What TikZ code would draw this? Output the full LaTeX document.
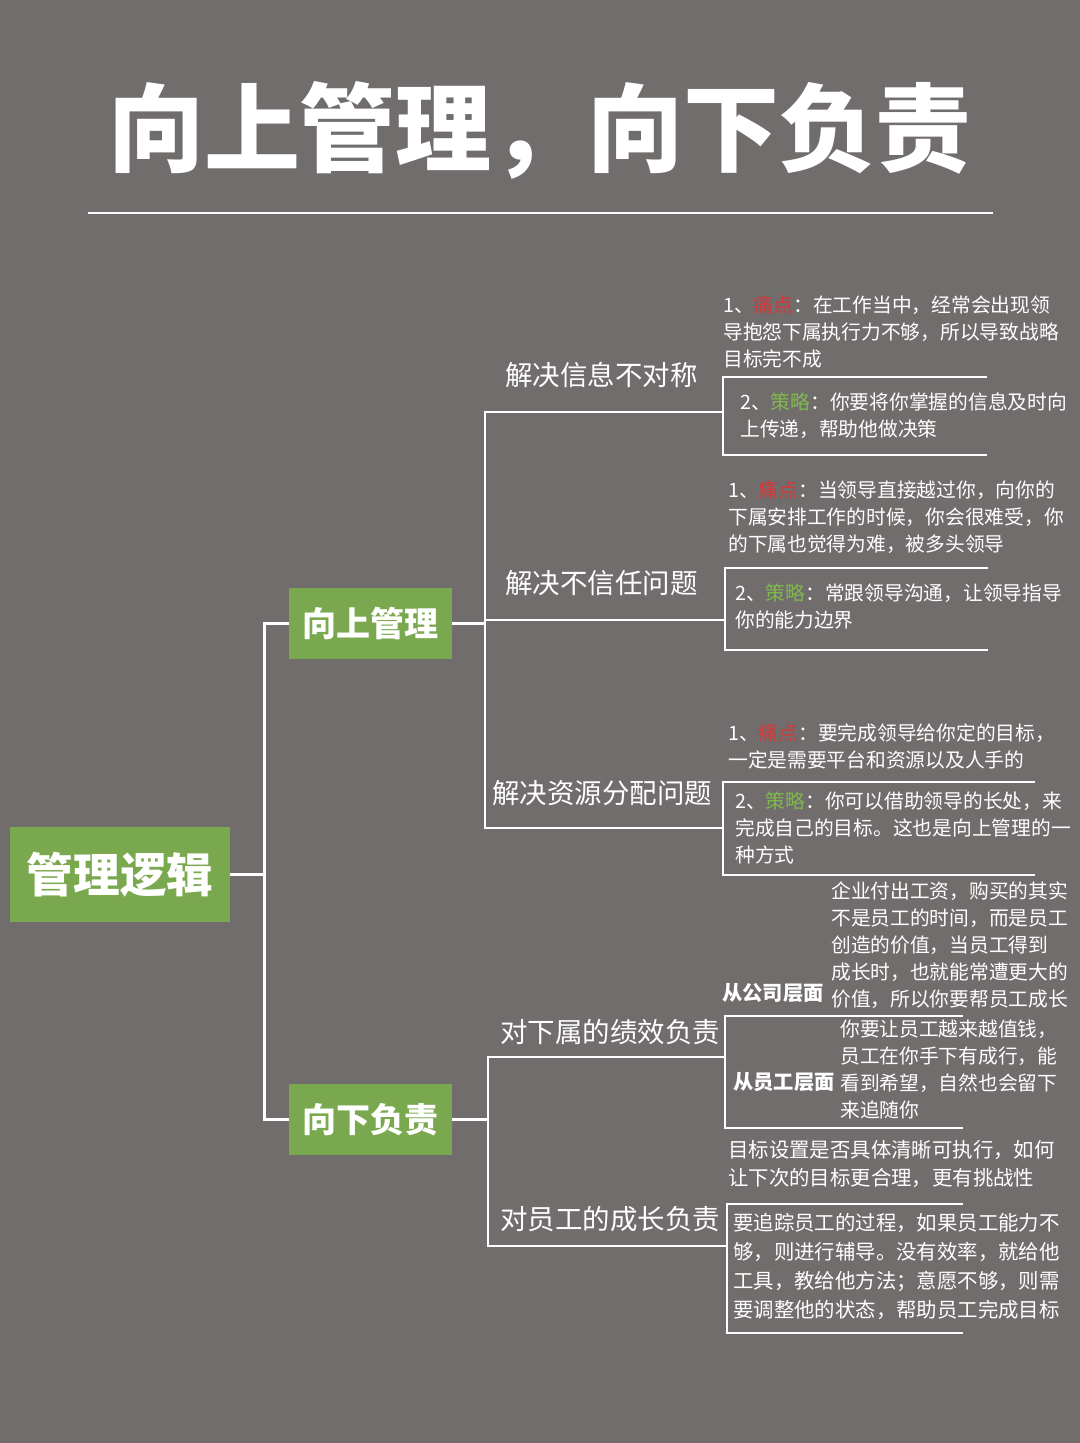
\documentclass[tikz,border=0pt]{standalone}
\usepackage{fontspec}
\setmainfont{Noto Sans CJK SC}
\usepackage{tikz}
\usetikzlibrary{calc, positioning}
\definecolor{bggray}{RGB}{113,109,108}
\definecolor{leafgreen}{RGB}{122,168,78}
\definecolor{painred}{RGB}{214,56,56}
\definecolor{plangreen}{RGB}{128,184,80}
\newcommand{\pain}{\textcolor{painred}{痛点}}
\newcommand{\plan}{\textcolor{plangreen}{策略}}

\begin{document}
\begin{tikzpicture}[
    x=0.75pt, y=-0.75pt,
    wire/.style={draw=white, line width=2.2pt},
    rootbox/.style={fill=leafgreen, text=white, font=\bfseries\fontsize{35}{40}\selectfont, minimum width=165pt, minimum height=71pt, inner sep=0pt},
    greenbox/.style={fill=leafgreen, text=white, font=\bfseries\fontsize{25.5}{30}\selectfont, minimum width=122pt, minimum height=53pt, inner sep=0pt},
    topic/.style={text=white, font=\fontsize{20.6}{24}\selectfont, inner sep=0pt, anchor=west},
    sidenote/.style={text=white, font=\bfseries\fontsize{15.2}{20}\selectfont, inner sep=0pt, anchor=west},
    note/.style={text=white, font=\fontsize{14.8}{20.25}\selectfont, align=left, inner sep=0pt, anchor=north west}
]
\useasboundingbox (0,0) rectangle (1080,1443);
\fill[bggray] (0,0) rectangle (1080,1443);

\node[text=white, font=\bfseries\fontsize{72}{80}\selectfont, inner sep=0pt] (title) at (540,130) {向上管理，向下负责};
\coordinate (ruleL) at (88,213);
\coordinate (ruleR) at (993,213);
\draw[wire] (ruleL) -- (ruleR);

\node[rootbox] (root) at (120,874.5) {管理逻辑};
\node[greenbox] (up) at (370.5,623.5) {向上管理};
\node[greenbox] (down) at (370.5,1119.5) {向下负责};

\draw[wire] (root.east) -- (265,874.5);
\draw[wire] (up.west) -- ++(-24,0) |- (down.west);

\node[topic] (t1) at (505,375) {解决信息不对称};
\node[topic] (t2) at (505,583) {解决不信任问题};
\node[topic] (t3) at (492,793) {解决资源分配问题};
\node[topic] (t4) at (500,1032) {对下属的绩效负责};
\node[topic] (t5) at (500,1219) {对员工的成长负责};

\coordinate (upj) at (485,623.5);
\coordinate (dnj) at (488,1119.5);
\coordinate (b1) at (723,412);
\coordinate (b2) at (725,620);
\coordinate (b3) at (723,828);
\coordinate (b4) at (725,1057);
\coordinate (b5) at (727,1246);

\draw[wire] (up.east) -- (upj);
\draw[wire] (b1) -| (upj) |- (b3);
\draw[wire] (upj |- b2) -- (b2);
\draw[wire] (down.east) -- (dnj);
\draw[wire] (b4) -| (dnj) |- (b5);

\draw[wire] (987,377) -- (723,377) -- (723,455) -- (987,455);
\draw[wire] (988,568) -- (725,568) -- (725,650) -- (988,650);
\draw[wire] (1035,782) -- (723,782) -- (723,875) -- (1035,875);
\draw[wire] (963,1016) -- (725,1016) -- (725,1128) -- (963,1128);
\draw[wire] (963,1204) -- (727,1204) -- (727,1333) -- (963,1333);

\node[note] (n11) at (723,295.5) {1、\pain：在工作当中，经常会出现领\\导抱怨下属执行力不够，所以导致战略\\目标完不成};
\node[note] (n12) at (740,392.5) {2、\plan：你要将你掌握的信息及时向\\上传递，帮助他做决策};
\node[note] (n21) at (728,480.5) {1、\pain：当领导直接越过你，向你的\\下属安排工作的时候，你会很难受，你\\的下属也觉得为难，被多头领导};
\node[note] (n22) at (735,583.5) {2、\plan：常跟领导沟通，让领导指导\\你的能力边界};
\node[note] (n31) at (728,723.5) {1、\pain：要完成领导给你定的目标，\\一定是需要平台和资源以及人手的};
\node[note] (n32) at (735,791.5) {2、\plan：你可以借助领导的长处，来\\完成自己的目标。这也是向上管理的一\\种方式};

\node[sidenote] (s1) at (722,993) {从公司层面};
\node[sidenote] (s2) at (733,1082) {从员工层面};
\node[note] (n41) at (831,881.5) {企业付出工资，购买的其实\\不是员工的时间，而是员工\\创造的价值，当员工得到\\成长时，也就能常遭更大的\\价值，所以你要帮员工成长};
\node[note] (n42) at (840,1019.5) {你要让员工越来越值钱，\\员工在你手下有成行，能\\看到希望，自然也会留下\\来追随你};
\node[note, font=\fontsize{15.3}{21}\selectfont] (n51) at (728,1140) {目标设置是否具体清晰可执行，如何\\让下次的目标更合理，更有挑战性};
\node[note, font=\fontsize{15.3}{21.75}\selectfont] (n52) at (733,1213) {要追踪员工的过程，如果员工能力不\\够，则进行辅导。没有效率，就给他\\工具，教给他方法；意愿不够，则需\\要调整他的状态，帮助员工完成目标};
\end{tikzpicture}
\end{document}
